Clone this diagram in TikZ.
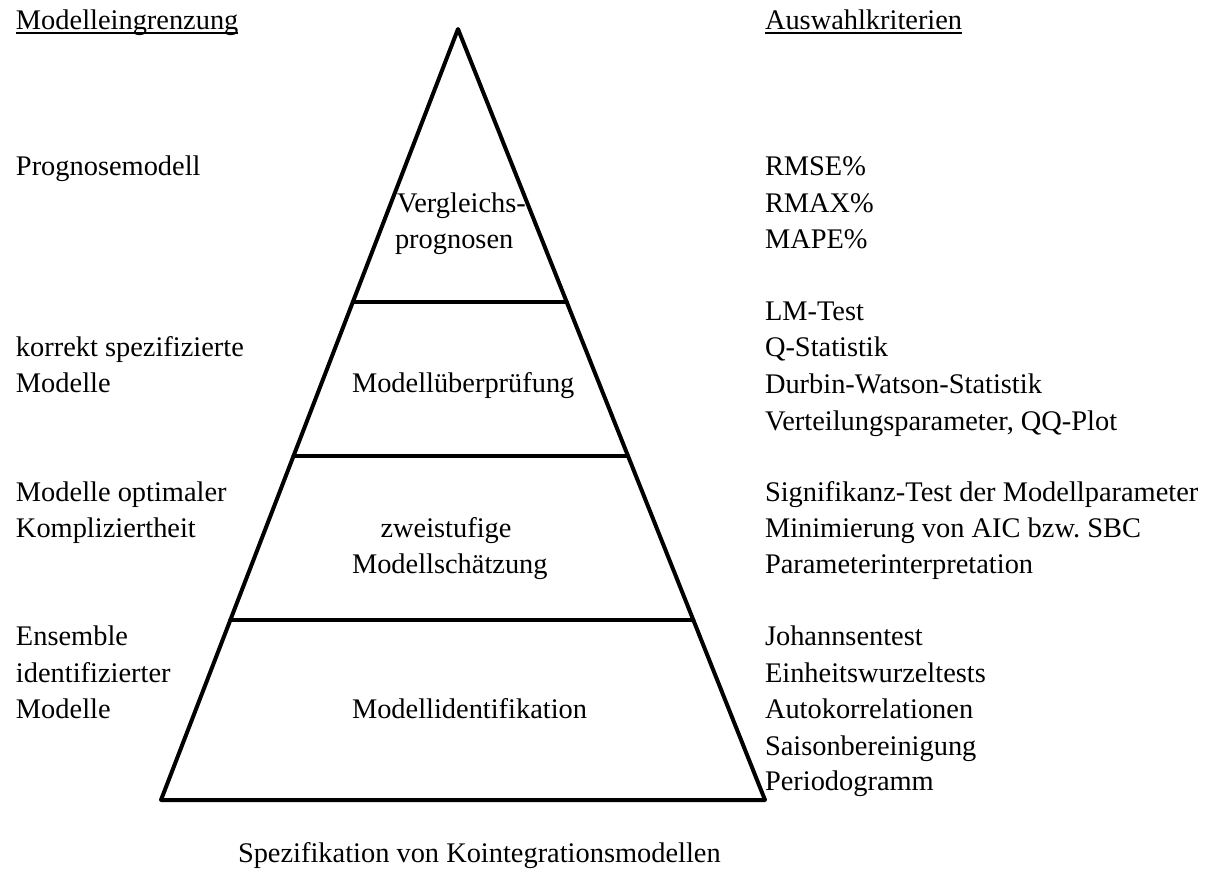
\documentclass[tikz,border=0pt]{standalone}
\usepackage{fontspec}
\setmainfont{Liberation Serif}
\usetikzlibrary{calc}
\frenchspacing
\begin{document}
\begin{tikzpicture}[x=0.5pt,y=-0.5pt,
  txt/.style={anchor=base west,inner sep=0pt,outer sep=0pt,font=\fontsize{14.2}{18}\selectfont},
  ctxt/.style={txt,anchor=base},
  edgeline/.style={line width=2pt,line join=round,line cap=round},
  uline/.style={line width=0.9pt}]
\useasboundingbox (0,0) rectangle (1212,869);
% pyramid
\coordinate (apex) at (458,29);
\coordinate (bl) at (161,800);
\coordinate (br) at (765,800);
\draw[edgeline] (bl) -- (apex) -- (br) -- cycle;
\draw[edgeline] ($(apex)!0.354!(bl)$) -- ($(apex)!0.354!(br)$);
\draw[edgeline] ($(apex)!0.554!(bl)$) -- ($(apex)!0.554!(br)$);
\draw[edgeline] ($(apex)!0.7665!(bl)$) -- ($(apex)!0.7665!(br)$);
% headings
\node[txt] (hL) at (16,29) {Modelleingrenzung};
\node[txt] (hR) at (765,29) {Auswahlkriterien};
\draw[uline] ($(hL.base west)+(0,4)$) -- ($(hL.base east)+(0,4)$);
\draw[uline] ($(hR.base west)+(0,4)$) -- ($(hR.base east)+(0,4)$);
% left column
\node[txt] (l1) at (16,175) {Prognosemodell};
\node[txt] (l2) at (16,356) {korrekt spezifizierte};
\node[txt] (l3) at (16,392) {Modelle};
\node[txt] (l4) at (16,501) {Modelle optimaler};
\node[txt] (l5) at (16,537) {Kompliziertheit};
\node[txt] (l6) at (16,645) {Ensemble};
\node[txt] (l7) at (16,682) {identifizierter};
\node[txt] (l8) at (16,718) {Modelle};
% middle
\node[txt] (m1) at (397,212) {Vergleichs-};
\node[txt] (m2) at (395,248) {prognosen};
\node[txt] (m3) at (352,392) {Modellüberprüfung};
\node[ctxt] (m4) at (446,537) {zweistufige};
\node[txt] (m5) at (352,573) {Modellschätzung};
\node[txt] (m6) at (352,718) {Modellidentifikation};
% right column
\node[txt] (r1) at (765,175) {RMSE\%};
\node[txt] (r2) at (765,212) {RMAX\%};
\node[txt] (r3) at (765,248) {MAPE\%};
\node[txt] (r4) at (765,320) {LM-Test};
\node[txt] (r5) at (765,356) {Q-Statistik};
\node[txt] (r6) at (765,393) {Durbin-Watson-Statistik};
\node[txt] (r7) at (765,430) {Verteilungsparameter, QQ-Plot};
\node[txt] (r8) at (765,501) {Signifikanz-Test der Modellparameter};
\node[txt] (r9) at (765,537) {Minimierung von AIC bzw.\ SBC};
\node[txt] (r10) at (765,573) {Parameterinterpretation};
\node[txt] (r11) at (765,645) {Johannsentest};
\node[txt] (r12) at (765,682) {Einheitswurzeltests};
\node[txt] (r13) at (765,718) {Autokorrelationen};
\node[txt] (r14) at (765,755) {Saisonbereinigung};
\node[txt] (r15) at (765,790) {Periodogramm};
% bottom caption
\node[txt] (cap) at (238,862) {Spezifikation von Kointegrationsmodellen};
\end{tikzpicture}
\end{document}
